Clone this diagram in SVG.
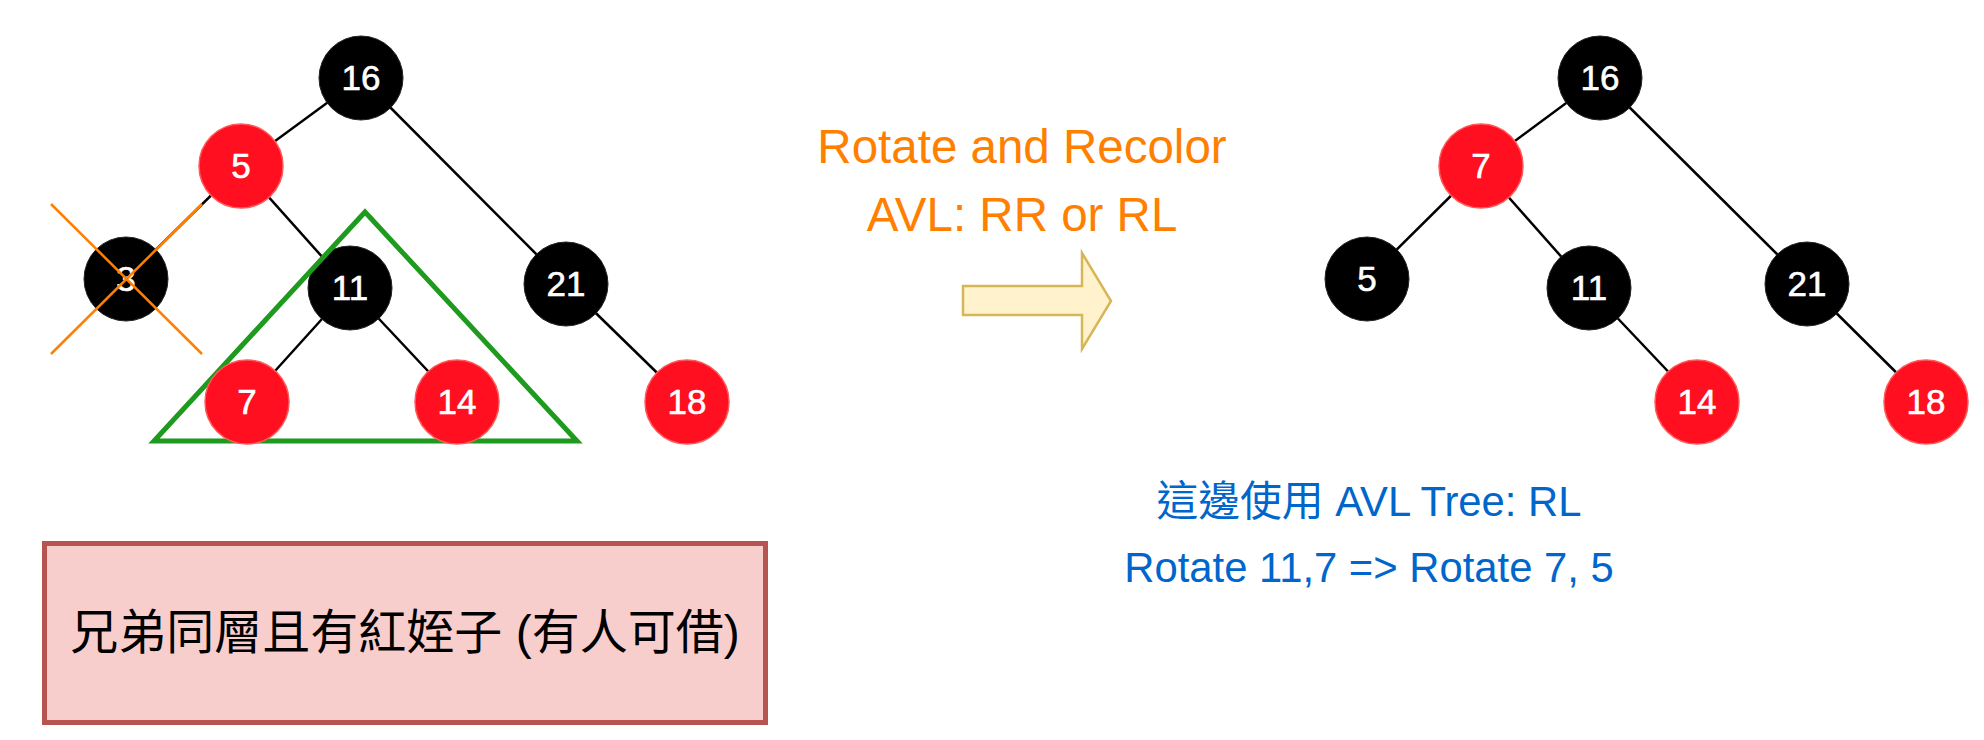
<svg xmlns="http://www.w3.org/2000/svg" width="1984" height="740" viewBox="0 0 1984 740">
<style>
.edge{stroke:#000;stroke-width:2.5;fill:none}
.blk{fill:#000;stroke:#222;stroke-width:1}
.red{fill:#FF0F1F;stroke:#FF5A5A;stroke-width:1.5}
.lbl{font-family:"Liberation Sans",Arial,sans-serif;font-size:35px;fill:#fff;stroke:#fff;stroke-width:0.6;text-anchor:middle}
.cross{stroke:#FF8000;stroke-width:2.5}
.orange{font-family:"Liberation Sans",Arial,sans-serif;font-size:47.5px;fill:#FF8000;text-anchor:middle}
.blue{font-family:"Liberation Sans","Noto Sans CJK TC",sans-serif;font-size:41.8px;fill:#0066CC;text-anchor:middle}
.cjk{font-family:"Liberation Sans","Noto Sans CJK TC",sans-serif;font-size:48px;fill:#000;text-anchor:middle}
</style>
<rect width="1984" height="740" fill="#fff"/>
<g id="connectors">
<line class="edge" x1="361" y1="78" x2="241" y2="166"/>
<line class="edge" x1="361" y1="78" x2="566" y2="284"/>
<line class="edge" x1="241" y1="166" x2="126" y2="279"/>
<line class="edge" x1="241" y1="166" x2="350" y2="288"/>
<line class="edge" x1="350" y1="288" x2="247" y2="402"/>
<line class="edge" x1="350" y1="288" x2="457" y2="402"/>
<line class="edge" x1="566" y1="284" x2="687" y2="402"/>
<line class="edge" x1="1600" y1="78" x2="1481" y2="166"/>
<line class="edge" x1="1600" y1="78" x2="1807" y2="284"/>
<line class="edge" x1="1481" y1="166" x2="1367" y2="279"/>
<line class="edge" x1="1481" y1="166" x2="1589" y2="288"/>
<line class="edge" x1="1589" y1="288" x2="1697" y2="402"/>
<line class="edge" x1="1807" y1="284" x2="1926" y2="402"/>
</g>
<g id="L16"><circle class="blk" cx="361" cy="78" r="42"/><text class="lbl" x="361" y="90">16</text></g>
<g id="L5"><circle class="red" cx="241" cy="166" r="42"/><text class="lbl" x="241" y="178">5</text></g>
<g id="L3"><circle class="blk" cx="126" cy="279" r="42"/><text class="lbl" x="126" y="291">3</text></g>
<g id="cross"><line class="cross" x1="51" y1="204" x2="202" y2="354"/><line class="cross" x1="51" y1="354" x2="202" y2="204"/></g>
<g id="L11"><circle class="blk" cx="350" cy="288" r="42"/><text class="lbl" x="350" y="300">11</text></g>
<g id="L21"><circle class="blk" cx="566" cy="284" r="42"/><text class="lbl" x="566" y="296">21</text></g>
<g id="L18"><circle class="red" cx="687" cy="402" r="42"/><text class="lbl" x="687" y="414">18</text></g>
<g id="triangle"><polygon points="365,212 154,441 577,441" fill="none" stroke="#1E9A1E" stroke-width="5"/></g>
<g id="L7"><circle class="red" cx="247" cy="402" r="42"/><text class="lbl" x="247" y="414">7</text></g>
<g id="L14"><circle class="red" cx="457" cy="402" r="42"/><text class="lbl" x="457" y="414">14</text></g>
<g id="R16"><circle class="blk" cx="1600" cy="78" r="42"/><text class="lbl" x="1600" y="90">16</text></g>
<g id="R7"><circle class="red" cx="1481" cy="166" r="42"/><text class="lbl" x="1481" y="178">7</text></g>
<g id="R5"><circle class="blk" cx="1367" cy="279" r="42"/><text class="lbl" x="1367" y="291">5</text></g>
<g id="R11"><circle class="blk" cx="1589" cy="288" r="42"/><text class="lbl" x="1589" y="300">11</text></g>
<g id="R21"><circle class="blk" cx="1807" cy="284" r="42"/><text class="lbl" x="1807" y="296">21</text></g>
<g id="R14"><circle class="red" cx="1697" cy="402" r="42"/><text class="lbl" x="1697" y="414">14</text></g>
<g id="R18"><circle class="red" cx="1926" cy="402" r="42"/><text class="lbl" x="1926" y="414">18</text></g>
<g id="rotate-label"><text class="orange" x="1022" y="163">Rotate and Recolor</text><text class="orange" x="1022" y="231">AVL: RR or RL</text></g>
<g id="arrow"><polygon points="963,286 1082,286 1082,253 1111,301 1082,349 1082,315 963,315" fill="#FFF2CC" stroke="#D6B656" stroke-width="2.5"/></g>
<g id="note"><text class="blue" x="1369" y="516">這邊使用 AVL Tree: RL</text><text class="blue" x="1369" y="582">Rotate 11,7 =&gt; Rotate 7, 5</text></g>
<g id="box"><rect x="44.5" y="543.5" width="721" height="179" fill="#F8CECC" stroke="#B85450" stroke-width="5"/><text class="cjk" x="405" y="649">兄弟同層且有紅姪子 (有人可借)</text></g>
</svg>
